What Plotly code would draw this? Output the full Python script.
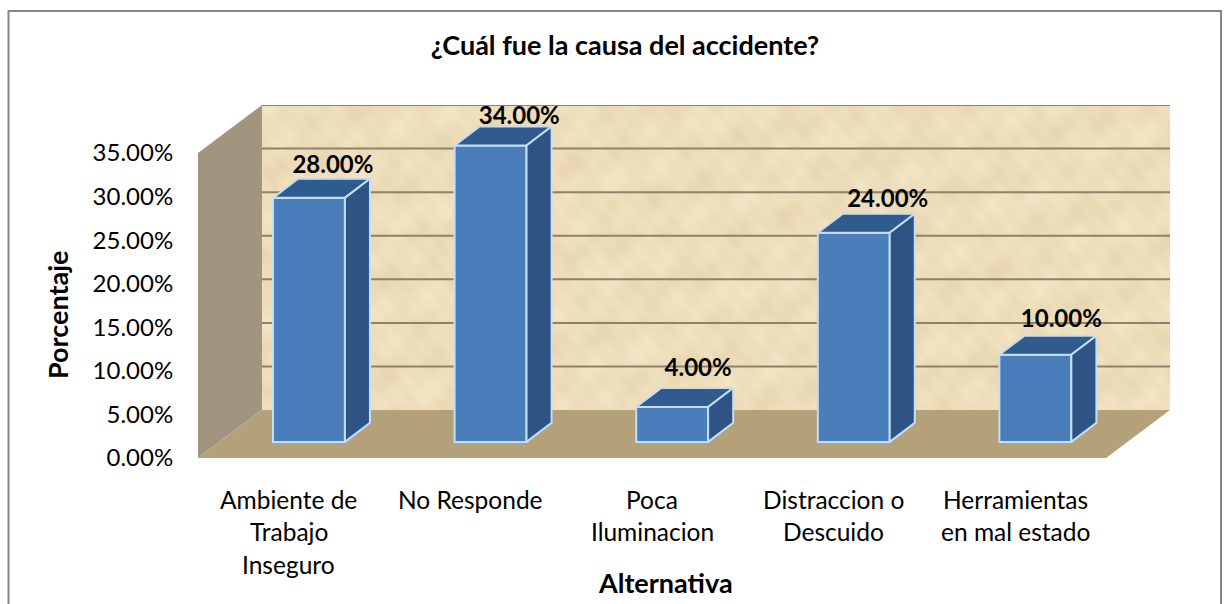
import base64
import struct
import zlib

import numpy as np
import plotly.graph_objects as go

title = "¿Cuál fue la causa del accidente?"
category_lines = [
    ["Ambiente de", "Trabajo", "Inseguro"],
    ["No Responde"],
    ["Poca", "Iluminacion"],
    ["Distraccion o", "Descuido"],
    ["Herramientas", "en mal estado"],
]
values = [28, 34, 4, 24, 10]
y_ticks = [0, 5, 10, 15, 20, 25, 30, 35]
y_tick_labels = ["0.00%", "5.00%", "10.00%", "15.00%", "20.00%", "25.00%", "30.00%", "35.00%"]
x_title = "Alternativa"
y_title = "Porcentaje"

# 3-D look, in axis units
WALL_DX, WALL_DY = 0.3524, 5.5      # depth of the box
BAR_SHIFT, BAR_BASE = 0.111, 1.85   # bars stand in the middle of the floor
BAR_W = 0.396
BAR_DX, BAR_DY = 0.138, 2.18        # depth of a bar
LABEL_DX = [0.132, 0.158, 0.143, 0.187, 0.143]   # data-label nudges
LABEL_DY = [5.4, 5.0, 6.1, 5.5, 5.7]

FONT = "Lato, Carlito, Calibri, sans-serif"
LEFT, RIGHT, TOP, BOTTOM = 198, 59, 105, 146
W, H = 1229, 604
PLOT_W, PLOT_H = W - LEFT - RIGHT, H - TOP - BOTTOM
X_MIN, X_MAX = -0.5, 4.5 + WALL_DX
Y_MAX = max(y_ticks) + WALL_DY


def poly(pts):
    return "M" + " L".join(f"{x},{y}" for x, y in pts) + " Z"


def parchment_uri(w=300, h=100):
    """Soft mottled wall texture (decoration only, no chart data)."""
    yy, xx = np.mgrid[0:h, 0:w]
    m = (np.sin(xx * 0.13 + yy * 0.21) + np.sin(xx * 0.31 - yy * 0.17 + 1.3)
         + np.sin(xx * 0.07 + yy * 0.43 + 2.1) + np.sin(xx * 0.53 + yy * 0.37 + 0.4)
         + 0.8 * np.sin(xx * 0.83 - yy * 0.71 + 0.9))
    m = m / np.abs(m).max()
    base = np.array([238, 222, 187])[None, None, :]
    amp = np.array([7, 9, 12])[None, None, :]
    img = np.clip(base + m[..., None] * amp, 0, 255).astype(np.uint8)
    raw = b"".join(b"\x00" + img[i].tobytes() for i in range(h))

    def chunk(tag, data):
        return struct.pack(">I", len(data)) + tag + data + struct.pack(">I", zlib.crc32(tag + data))

    png = (b"\x89PNG\r\n\x1a\n" + chunk(b"IHDR", struct.pack(">IIBBBBB", w, h, 8, 2, 0, 0, 0))
           + chunk(b"IDAT", zlib.compress(raw)) + chunk(b"IEND", b""))
    return "data:image/png;base64," + base64.b64encode(png).decode()


wall_frac = WALL_DX / (X_MAX - X_MIN)
images = [dict(source=parchment_uri(), xref="paper", yref="paper", x=wall_frac, y=1,
               sizex=1 - wall_frac, sizey=1 - WALL_DY / Y_MAX, sizing="stretch",
               xanchor="left", yanchor="top", layer="below")]

shapes = [
    dict(type="path", layer="below", line=dict(width=0), fillcolor="#a2957f",
         path=poly([(X_MIN, 0), (X_MIN + WALL_DX, WALL_DY), (X_MIN + WALL_DX, Y_MAX), (X_MIN, max(y_ticks))])),
    dict(type="path", layer="below", line=dict(width=0), fillcolor="#b5a179",
         path=poly([(X_MIN, 0), (X_MIN + WALL_DX, WALL_DY), (X_MAX, WALL_DY), (4.5, 0)])),
]
for t in y_ticks[1:]:
    shapes.append(dict(type="line", layer="below", x0=X_MIN + WALL_DX, x1=X_MAX,
                       y0=t + WALL_DY, y1=t + WALL_DY,
                       line=dict(color="#8f8168", width=2)))
# outer chart frame, running off the bottom of the page
shapes.append(dict(type="rect", xref="paper", yref="paper",
                   x0=(8.5 - LEFT) / PLOT_W, x1=(1221 - LEFT) / PLOT_W,
                   y0=-1, y1=1 + (TOP - 11) / PLOT_H,
                   line=dict(color="#868686", width=2), fillcolor="rgba(0,0,0,0)", layer="below"))

xs = [i + BAR_SHIFT for i in range(len(values))]
fig = go.Figure()
fig.add_trace(go.Bar(x=xs, y=values, base=BAR_BASE, width=BAR_W,
                     marker=dict(color="#4a7ebb", line=dict(color="#c6def3", width=2)),
                     showlegend=False, hoverinfo="skip"))

OUT = dict(color="#c6def3", width=2)
for x, v in zip(xs, values):
    l, r = x - BAR_W / 2, x + BAR_W / 2
    b, t = BAR_BASE, v + BAR_BASE
    fig.add_trace(go.Scatter(x=[l, r, r + BAR_DX, l + BAR_DX, l],
                             y=[t, t, t + BAR_DY, t + BAR_DY, t],
                             mode="lines", fill="toself", fillcolor="#2f5b8f", line=OUT,
                             showlegend=False, hoverinfo="skip"))
    fig.add_trace(go.Scatter(x=[r, r + BAR_DX, r + BAR_DX, r, r],
                             y=[b, b + BAR_DY, t + BAR_DY, t, b],
                             mode="lines", fill="toself", fillcolor="#2e5485", line=OUT,
                             showlegend=False, hoverinfo="skip"))

fig.add_trace(go.Scatter(
    x=[x + d for x, d in zip(xs, LABEL_DX)],
    y=[v + d for v, d in zip(values, LABEL_DY)],
    text=[f"{v:.2f}%" for v in values],
    mode="text", textposition="middle center",
    textfont=dict(family=FONT, size=24, color="#000000", weight="bold"),
    showlegend=False, hoverinfo="skip"))

annotations = []
LINE_PX = 32.5
for i, lines in enumerate(category_lines):
    for j, line in enumerate(lines):
        annotations.append(dict(x=i, xref="x", yref="paper",
                                y=-(499 + j * LINE_PX - (H - BOTTOM)) / PLOT_H,
                                text=line, showarrow=False, xanchor="center", yanchor="middle",
                                font=dict(family=FONT, size=24.5, color="#000000")))
annotations.append(dict(x=(665 - LEFT) / PLOT_W, xref="paper", yref="paper",
                        y=-(582 - (H - BOTTOM)) / PLOT_H,
                        text=f"<b>{x_title}</b>", showarrow=False, xanchor="center", yanchor="middle",
                        font=dict(family=FONT, size=27, color="#000000")))
annotations.append(dict(x=(57 - LEFT) / PLOT_W, xref="paper", yref="paper",
                        y=((H - BOTTOM) - 315) / PLOT_H,
                        text=f"<b>{y_title}</b>", showarrow=False, textangle=-90,
                        xanchor="center", yanchor="middle",
                        font=dict(family=FONT, size=27, color="#000000")))

fig.update_layout(
    width=W, height=H, margin=dict(l=LEFT, r=RIGHT, t=TOP, b=BOTTOM),
    paper_bgcolor="#ffffff", plot_bgcolor="rgba(0,0,0,0)",
    title=dict(text=f"<b>{title}</b>", x=625 / W, xanchor="center", xref="container",
               y=1 - 46 / H, yanchor="middle", yref="container",
               font=dict(family=FONT, size=27, color="#000000")),
    images=images, shapes=shapes, annotations=annotations, showlegend=False,
    xaxis=dict(range=[X_MIN, X_MAX], showgrid=False, zeroline=False, showticklabels=False,
               ticks="", showline=False, fixedrange=True),
    yaxis=dict(range=[0, Y_MAX], tickvals=y_ticks, ticktext=y_tick_labels,
               showgrid=False, zeroline=False, showline=False, ticks="outside", ticklen=19,
               tickcolor="rgba(0,0,0,0)", fixedrange=True,
               tickfont=dict(family=FONT, size=24, color="#000000")),
)
fig.write_html("out.html", config=dict(displayModeBar=False),
               post_script="document.body.style.margin='0';document.documentElement.style.overflow='hidden';")
